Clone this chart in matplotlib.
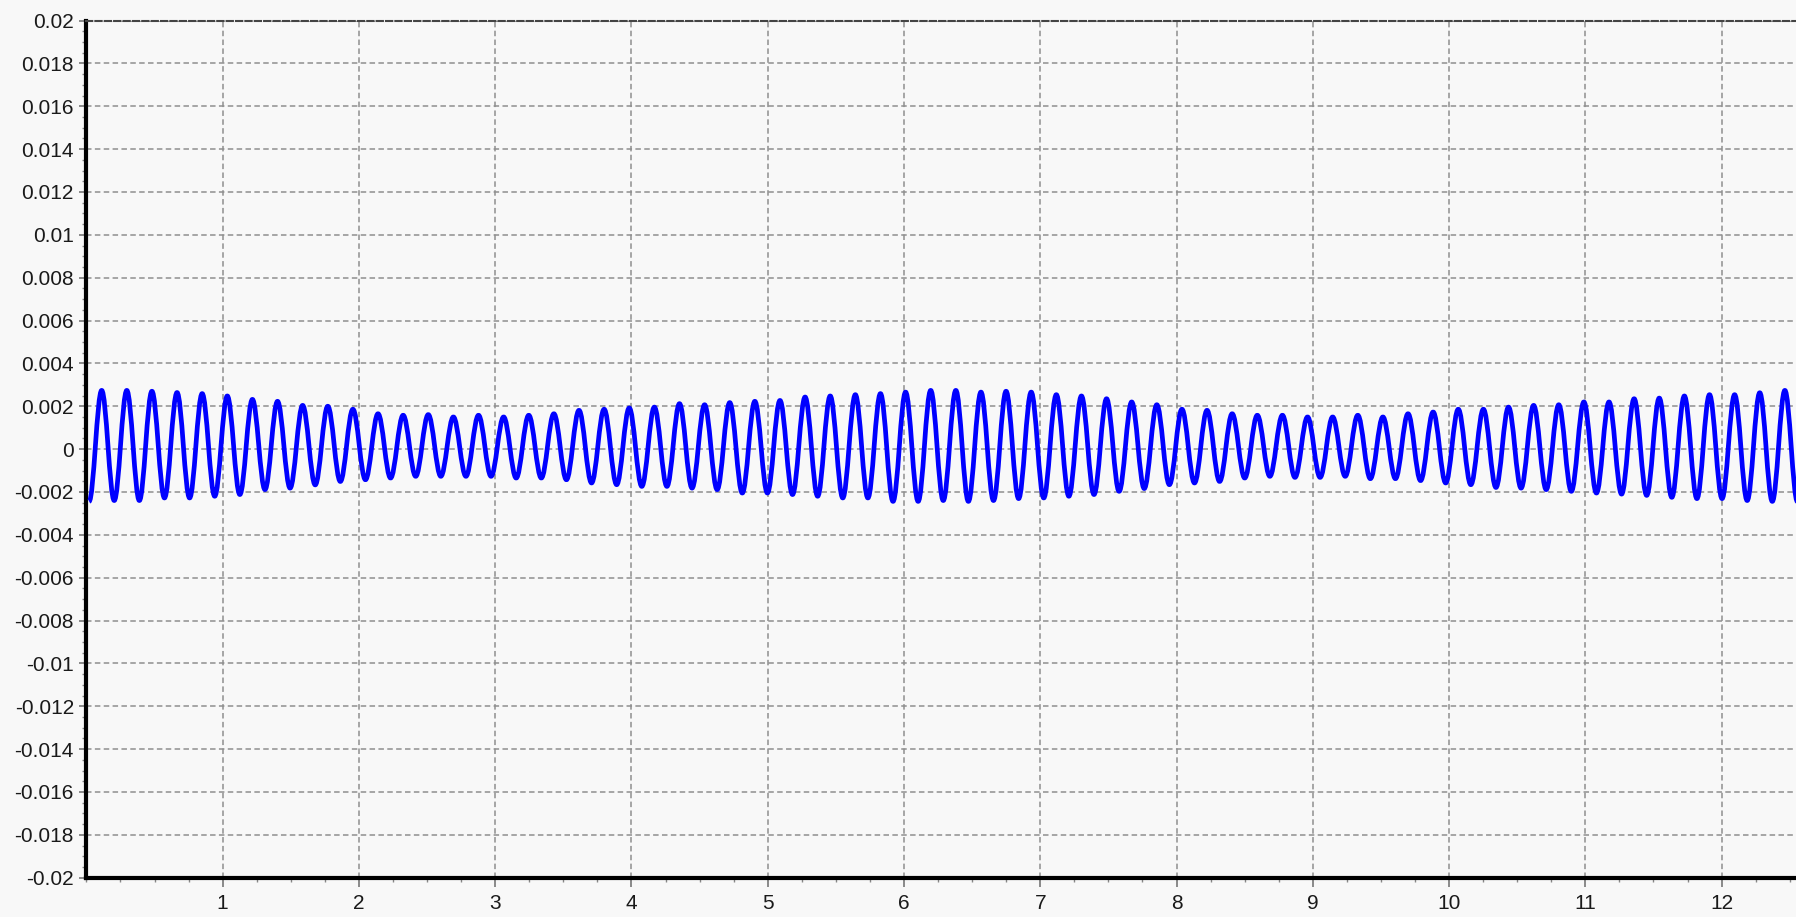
import numpy as np
import matplotlib.pyplot as plt
from matplotlib.path import Path
from matplotlib.patches import PathPatch
from matplotlib.ticker import MultipleLocator, FuncFormatter

# signal extrema, in units of 1e-3
peaks = [2.74, 2.74, 2.70, 2.64, 2.59, 2.48, 2.32, 2.23, 2.04, 2.00, 1.86, 1.65,
         1.58, 1.61, 1.50, 1.58, 1.50, 1.58, 1.65, 1.81, 1.86, 1.92, 1.96, 2.12,
         2.07, 2.17, 2.23, 2.27, 2.43, 2.48, 2.54, 2.59, 2.66, 2.74, 2.74,
         2.66, 2.70, 2.66, 2.54, 2.48, 2.35, 2.20, 2.07, 1.86, 1.81, 1.65, 1.58,
         1.58, 1.50, 1.50, 1.58, 1.50, 1.65, 1.73, 1.86, 1.86, 1.96, 2.04, 2.07,
         2.20, 2.20, 2.35, 2.38, 2.48, 2.54, 2.54, 2.63, 2.74]
troughs = [-2.44, -2.40, -2.40, -2.28, -2.28, -2.20, -2.12, -1.89, -1.82, -1.67, -1.51, -1.43,
           -1.35, -1.27, -1.27, -1.27, -1.27, -1.35, -1.35, -1.43, -1.58, -1.66, -1.74, -1.74,
           -1.82, -1.89, -2.05, -2.05, -2.12, -2.20, -2.28, -2.28, -2.44, -2.44, -2.40, -2.44,
           -2.40, -2.31, -2.28, -2.20, -2.12, -1.97, -1.84, -1.66, -1.58, -1.51, -1.35, -1.27,
           -1.32, -1.32, -1.27, -1.38, -1.38, -1.47, -1.58, -1.66, -1.79, -1.82, -1.89, -1.97,
           -2.05, -2.10, -2.16, -2.25, -2.31, -2.31, -2.40, -2.44, -2.45]

first_trough_x = 0.020
half_period = 0.09218

x_ticks = list(range(1, 13))

# interleave troughs and peaks
vals = []
for i in range(len(peaks)):
    vals.append(troughs[i])
    vals.append(peaks[i])
vals.append(troughs[-1])
y = np.array(vals) * 1e-3
x = first_trough_x + np.arange(len(y)) * half_period

# smooth curve between extrema: cubic bezier with flat handles at each extremum
k = 0.3642 * half_period
verts = [(x[0], y[0])]
codes = [Path.MOVETO]
for i in range(1, len(x)):
    verts += [(x[i - 1] + k, y[i - 1]), (x[i] - k, y[i]), (x[i], y[i])]
    codes += [Path.CURVE4] * 3

plt.rcParams['font.family'] = ['Liberation Sans', 'DejaVu Sans']

fig = plt.figure(figsize=(17.96, 9.17), dpi=100)
fig.patch.set_facecolor('#f8f8f8')
ax = fig.add_axes([0.0481, 0.0429, 1 - 0.0481, 0.9776 - 0.0429])
ax.set_facecolor('#f8f8f8')

ax.add_patch(PathPatch(Path(verts, codes), fill=False, edgecolor='#0000ff',
                       lw=3.4, joinstyle='round', zorder=3))

ax.set_xlim(0, 12.546)
ax.set_ylim(-0.02, 0.02)

ax.set_xticks(x_ticks)
ax.xaxis.set_minor_locator(MultipleLocator(0.25))
ax.yaxis.set_major_locator(MultipleLocator(0.002))
ax.yaxis.set_minor_locator(MultipleLocator(0.0005))


def fmt(v, pos):
    s = ('%.3f' % v).rstrip('0').rstrip('.')
    if s in ('-0', '0'):
        return '0'
    return s


ax.yaxis.set_major_formatter(FuncFormatter(fmt))

ax.tick_params(axis='both', which='major', labelsize=15, labelcolor='#1a1a1a',
               color='#777777', width=1.2)
ax.tick_params(axis='x', which='major', length=6.5, pad=5)
ax.tick_params(axis='y', which='major', length=5, pad=4)
ax.tick_params(axis='both', which='minor', length=3, color='#888888', width=1)

ax.grid(True, which='major', color='#8f8f8f', lw=1.1, linestyle=(0, (3.6, 2.2)))

for side in ['left', 'bottom']:
    ax.spines[side].set_color('black')
    ax.spines[side].set_linewidth(3)
ax.spines['right'].set_visible(False)
ax.spines['top'].set_color('#444444')
ax.spines['top'].set_linewidth(1.5)
ax.spines['top'].set_linestyle((0, (3, 1.5)))

fig.savefig('out.png', dpi=100, facecolor=fig.get_facecolor())
plt.close()
